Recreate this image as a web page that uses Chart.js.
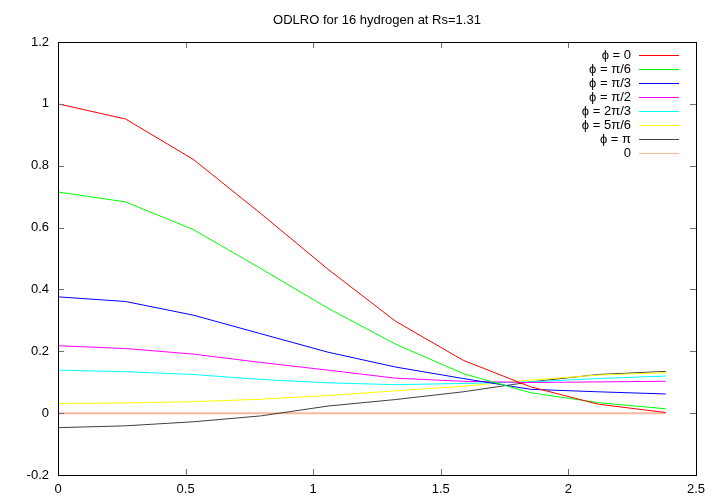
<!DOCTYPE html>
<html>
<head>
<meta charset="utf-8">
<script src="https://cdn.jsdelivr.net/npm/chart.js@4/dist/chart.umd.min.js"></script>
<style>
  html, body { margin: 0; padding: 0; background: #fff; }
  #wrap { width: 720px; height: 504px; }
</style>
</head>
<body>
<div id="wrap"><canvas id="odlro" width="720" height="504"></canvas></div>
<script>
// distances (x axis)
const xValues = [0, 0.2646, 0.5292, 0.7938, 1.0584, 1.323, 1.5876, 1.8522, 2.1168, 2.3814];

// ODLRO for each phi
const phi0    = [1.000, 0.951, 0.821, 0.646, 0.465, 0.297, 0.171, 0.085, 0.029, 0.002];
const phiPi6  = [0.715, 0.683, 0.594, 0.468, 0.339, 0.223, 0.128, 0.066, 0.034, 0.014];
const phiPi3  = [0.376, 0.361, 0.317, 0.257, 0.197, 0.149, 0.112, 0.077, 0.069, 0.062];
const phiPi2  = [0.218, 0.209, 0.191, 0.164, 0.139, 0.113, 0.103, 0.099, 0.101, 0.103];
const phi2Pi3 = [0.139, 0.134, 0.125, 0.109, 0.098, 0.092, 0.096, 0.101, 0.112, 0.120];
const phi5Pi6 = [0.031, 0.033, 0.037, 0.045, 0.057, 0.072, 0.087, 0.107, 0.123, 0.131];
const phiPi   = [-0.047, -0.041, -0.028, -0.009, 0.023, 0.044, 0.069, 0.101, 0.125, 0.135];
const zeroLine = [0, 0, 0, 0, 0, 0, 0, 0, 0, 0];

const seriesLabels = ['ϕ = 0', 'ϕ = π/6', 'ϕ = π/3', 'ϕ = π/2', 'ϕ = 2π/3', 'ϕ = 5π/6', 'ϕ = π', '0'];
const seriesColors = ['#ff0000', '#00ff00', '#0000ff', '#ff00ff', '#00ffff', '#ffff00', '#404040', '#f9b89e'];
const seriesData = [phi0, phiPi6, phiPi3, phiPi2, phi2Pi3, phi5Pi6, phiPi, zeroLine];

const yTicks = [-0.2, 0, 0.2, 0.4, 0.6, 0.8, 1, 1.2];
const xTicks = [0, 0.5, 1, 1.5, 2, 2.5];

const FONT = '"Liberation Sans", Arial, sans-serif';

// frame, inward ticks, title and gnuplot style legend
const gnuplotLook = {
  id: 'gnuplotLook',
  afterDraw(chart) {
    const ctx = chart.ctx;
    const a = chart.chartArea;
    const xs = chart.scales.x, ys = chart.scales.y;
    ctx.save();

    // ticks (mirrored, pointing in)
    ctx.strokeStyle = '#707070';
    ctx.lineWidth = 1;
    ctx.beginPath();
    yTicks.forEach(v => {
      const y = Math.round(ys.getPixelForValue(v)) + 0.5;
      ctx.moveTo(a.left, y); ctx.lineTo(a.left + 6, y);
      ctx.moveTo(a.right, y); ctx.lineTo(a.right - 6, y);
    });
    xTicks.forEach(v => {
      const x = Math.round(xs.getPixelForValue(v)) + 0.5;
      ctx.moveTo(x, a.bottom); ctx.lineTo(x, a.bottom - 6);
      ctx.moveTo(x, a.top); ctx.lineTo(x, a.top + 6);
    });
    ctx.stroke();

    // frame
    ctx.strokeStyle = '#000';
    ctx.strokeRect(Math.round(a.left) + 0.5, Math.round(a.top) + 0.5,
                   Math.round(a.right - a.left), Math.round(a.bottom - a.top));

    // title
    ctx.fillStyle = '#000';
    ctx.font = '13px ' + FONT;
    ctx.textAlign = 'center';
    ctx.textBaseline = 'middle';
    ctx.fillText('ODLRO for 16 hydrogen at Rs=1.31', (a.left + a.right) / 2, 20);

    // legend: text right aligned, sample line on the right
    ctx.textAlign = 'right';
    chart.data.datasets.forEach((ds, i) => {
      const y = 55 + i * 14;
      ctx.fillStyle = '#000';
      ctx.fillText(ds.label, 631, y);
      ctx.fillStyle = seriesColors[i];
      ctx.fillRect(639, Math.round(y), 40, 1);
    });
    ctx.restore();
  }
};

const datasets = seriesData.map((vals, i) => ({
  label: seriesLabels[i],
  data: vals.map((v, k) => ({ x: xValues[k], y: v })),
  borderColor: seriesColors[i],
  borderWidth: i === 7 ? 2 : 1,
  pointRadius: 0,
  tension: 0,
  fill: false
}));
// draw the flat zero line underneath the others
datasets[7].order = 10;

new Chart(document.getElementById('odlro'), {
  type: 'line',
  data: { datasets },
  options: {
    responsive: false,
    animation: false,
    events: [],
    layout: { padding: { top: 42, right: 24, left: 0, bottom: 0 } },
    plugins: { legend: { display: false }, title: { display: false }, tooltip: { enabled: false } },
    scales: {
      x: {
        type: 'linear',
        min: 0, max: 2.5,
        afterBuildTicks: s => { s.ticks = xTicks.map(v => ({ value: v })); },
        afterFit: s => { s.height = 29; },
        grid: { display: false, drawTicks: false },
        border: { display: false },
        ticks: {
          padding: 7,
          color: '#000',
          font: { family: FONT, size: 13 },
          callback: v => String(+v.toFixed(2))
        }
      },
      y: {
        type: 'linear',
        min: -0.2, max: 1.2,
        afterBuildTicks: s => { s.ticks = yTicks.map(v => ({ value: v })); },
        afterFit: s => { s.width = 58; },
        grid: { display: false, drawTicks: false },
        border: { display: false },
        ticks: {
          padding: 9,
          color: '#000',
          font: { family: FONT, size: 13 },
          callback: v => String(+v.toFixed(2))
        }
      }
    }
  },
  plugins: [gnuplotLook]
});
</script>
</body>
</html>
